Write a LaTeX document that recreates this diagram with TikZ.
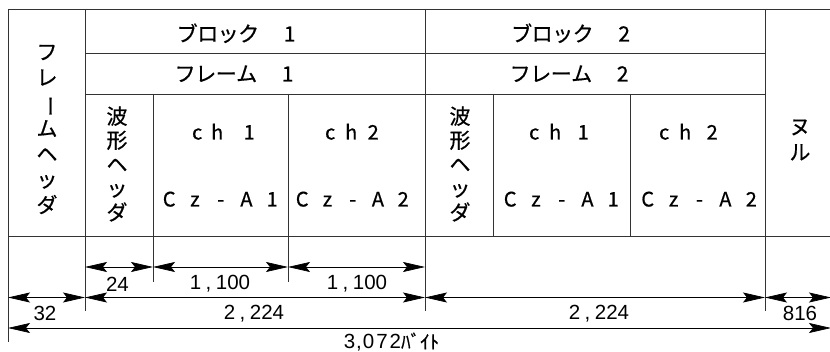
\documentclass[tikz,border=0pt]{standalone}
\usepackage{fontspec}
\setmainfont{Noto Sans CJK JP}[FakeBold=0.6]
\newfontfamily\dimfont{Liberation Sans}
\usetikzlibrary{arrows.meta}
\newcommand\gb[2]{\makebox[#1pt][c]{#2}}
\newcommand\pitchrow[2]{\def\pitchw{#1}\pitchloop#2\relax}
\def\pitchloop#1{\ifx#1\relax\else\makebox[\pitchw pt][c]{#1}\expandafter\pitchloop\fi}
\tikzset{
  tbl/.style={draw=black!80, line width=0.9pt},
  dimline/.style={draw=black, line width=0.7pt,
    {Stealth[length=22pt,width=10pt,inset=4pt]}-{Stealth[length=22pt,width=10pt,inset=4pt]}},
  jlab/.style={font=\fontsize{21}{25}\selectfont, inner sep=0pt},
  llab/.style={font=\fontsize{20}{25}\selectfont, inner sep=0pt},
  vlab/.style={font=\fontsize{21}{25.5}\selectfont, inner sep=0pt, align=center},
  dlab/.style={font=\dimfont\fontsize{20.5}{22}\selectfont, inner sep=0pt},
}
\begin{document}
\begin{tikzpicture}[x=1pt, y=-1pt]
\fill[white] (0,0) rectangle (830,352);
\useasboundingbox (0,0) rectangle (830,352);
% table lines
\draw[tbl] (8,9) -- (830,9);
\draw[tbl] (85,53) -- (765,53);
\draw[tbl] (85,94) -- (765,94);
\draw[tbl] (8,236) -- (830,236);
\draw[tbl] (8,9) -- (8,342);
\draw[tbl] (85,9) -- (85,311);
\draw[tbl] (153,94) -- (153,282);
\draw[tbl] (288,94) -- (288,282);
\draw[tbl] (425,9) -- (425,311);
\draw[tbl] (493,94) -- (493,236);
\draw[tbl] (630,94) -- (630,236);
\draw[tbl] (765,9) -- (765,311);
% header labels
\node[jlab, anchor=base west] (blk1) at (176.75,41.5) {\pitchrow{20.5}{ブロック~1}};
\node[jlab, anchor=base west] (blk2) at (511.25,41.5) {\pitchrow{20.5}{ブロック~2}};
\node[jlab, anchor=base west] (frm1) at (174.75,81.5) {\pitchrow{20.5}{フレーム~1}};
\node[jlab, anchor=base west] (frm2) at (509.75,81.5) {\pitchrow{20.5}{フレーム~2}};
% vertical labels
\node[vlab] (fh) at (47,129.5) {フ\\レ\\\rotatebox[origin=c]{-90}{ー}\\ム\\ヘ\\ッ\\ダ};
\node[vlab, font=\fontsize{21}{24}\selectfont] (wh1) at (117,164) {波\\形\\ヘ\\ッ\\ダ};
\node[vlab, font=\fontsize{21}{24}\selectfont] (wh2) at (460,164) {波\\形\\ヘ\\ッ\\ダ};
\node[vlab] (null) at (800,140) {ヌ\\ル};
% channel labels
\node[llab, anchor=base west] (c11) at (187,139.5) {\gb{20}{c}\gb{20}{h}\hspace{12pt}\gb{20}{1}};
\node[llab, anchor=base west] (c12) at (320,139.5) {\gb{20}{c}\gb{22}{h}\gb{22}{2}};
\node[llab, anchor=base west] (c21) at (524,139.5) {\gb{20}{c}\gb{22}{h}\hspace{6pt}\gb{22}{1}};
\node[llab, anchor=base west] (c22) at (654,139.5) {\gb{20}{c}\gb{22}{h}\hspace{5pt}\gb{22}{2}};
\node[llab, anchor=base west] (e11) at (156.125,206.5) {\pitchrow{25.75}{Cz-A1}};
\node[llab, anchor=base west] (e12) at (289.375,206.5) {\pitchrow{25.25}{Cz-A2}};
\node[llab, anchor=base west] (e21) at (497.125,206.5) {\pitchrow{25.75}{Cz-A1}};
\node[llab, anchor=base west] (e22) at (634.55,206.5) {\pitchrow{25.9}{Cz-A2}};
% dimension coordinates
\coordinate (r1a) at (85,267);
\coordinate (r1b) at (153,267);
\coordinate (r1c) at (288,267);
\coordinate (r1d) at (425,267);
\coordinate (r2a) at (8,297.5);
\coordinate (r2b) at (85,297.5);
\coordinate (r2c) at (425,297.5);
\coordinate (r2d) at (765,297.5);
\coordinate (r2e) at (831,297.5);
\coordinate (r3a) at (8,328);
\coordinate (r3b) at (831,328);
\draw[dimline] (r1a) -- (r1b);
\draw[dimline] (r1b) -- (r1c);
\draw[dimline] (r1c) -- (r1d);
\draw[dimline] (r2a) -- (r2b);
\draw[dimline] (r2b) -- (r2c);
\draw[dimline] (r2c) -- (r2d);
\draw[dimline] (r2d) -- (r2e);
\draw[dimline] (r3a) -- (r3b);
% dimension labels
\node[dlab] (d24) at (117.5,284) {24};
\node[dlab] (d1100a) at (220,284) {1\kern4.5pt,\kern4.5pt100};
\node[dlab] (d1100b) at (357,284) {1\kern4.5pt,\kern4.5pt100};
\node[dlab] (d32) at (45,313.5) {32};
\node[dlab] (d2224a) at (254,313.5) {2\kern4.5pt,\kern4.5pt224};
\node[dlab] (d2224b) at (599,313.5) {2\kern4.5pt,\kern4.5pt224};
\node[dlab] (d816) at (800,313.5) {816};
\node[dlab] (dtot) at (391.5,342) {3\kern1pt,\kern1pt0\kern2pt7\kern2pt2{\rmfamily\fontsize{19}{20}\selectfont ﾊﾞｲﾄ}};
\end{tikzpicture}
\end{document}
